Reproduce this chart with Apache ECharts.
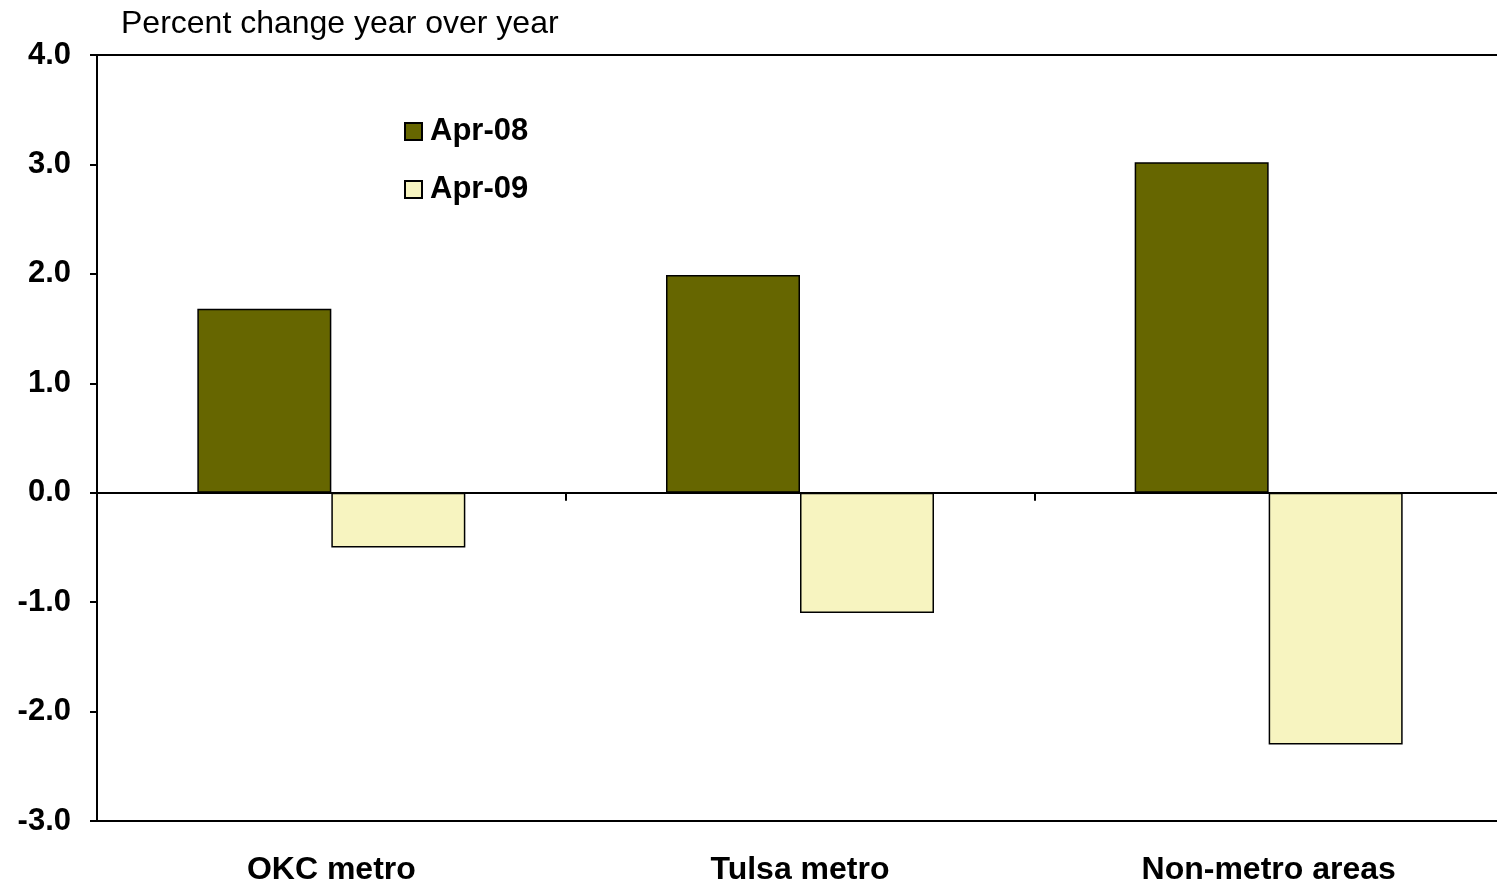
<!DOCTYPE html>
<html>
<head>
<meta charset="utf-8">
<script src="https://cdn.jsdelivr.net/npm/echarts@6/dist/echarts.min.js"></script>
<style>
  html, body { margin: 0; padding: 0; background: #fff; }
  #chart { width: 1497px; height: 882px; }
</style>
</head>
<body>
<div id="chart"></div>
<script>
// Employment change by area, percent year over year
const categories = ['OKC metro', 'Tulsa metro', 'Non-metro areas'];
const seriesNames = ['Apr-08', 'Apr-09'];
const apr08 = [1.68, 1.99, 3.02];
const apr09 = [-0.50, -1.10, -2.30];
const yTicks = { min: -3, max: 4, interval: 1 };

const FONT = '"Liberation Sans", Arial, sans-serif';
const chart = echarts.init(document.getElementById('chart'), null, { renderer: 'canvas' });

const blackLine = { color: '#000', width: 2 };

chart.setOption({
  animation: false,
  backgroundColor: '#fff',
  textStyle: { fontFamily: FONT, color: '#000' },
  title: {
    text: 'Percent change year over year',
    left: 116,
    top: 3,
    textStyle: { fontFamily: FONT, fontSize: 32, fontWeight: 'normal', color: '#000' }
  },
  legend: {
    orient: 'vertical',
    left: 399,
    top: 111,
    itemWidth: 17,
    itemHeight: 17,
    itemGap: 27,
    icon: 'rect',
    data: seriesNames,
    textStyle: { fontFamily: FONT, fontSize: 31, fontWeight: 'bold', color: '#000', padding: [0, 0, 0, 3] }
  },
  grid: {
    left: 97, top: 55, bottom: 61, width: 1406,
    outerBoundsMode: 'none',
    containLabel: false,
    show: false
  },
  xAxis: [
    {
      // zero line with category boundary ticks
      type: 'category',
      data: categories,
      axisLine: { onZero: true, lineStyle: blackLine },
      axisTick: { show: true, length: 8, lineStyle: blackLine },
      axisLabel: { show: false },
      splitLine: { show: false }
    },
    {
      // category names along the bottom edge
      type: 'category',
      data: categories,
      position: 'bottom',
      axisLine: { onZero: false, show: true, lineStyle: blackLine },
      axisTick: { show: false },
      axisLabel: { margin: 33, fontFamily: FONT, fontSize: 32, fontWeight: 'bold', color: '#000' },
      splitLine: { show: false }
    },
    {
      // top frame edge
      type: 'category',
      data: categories,
      position: 'top',
      axisLine: { onZero: false, show: true, lineStyle: blackLine },
      axisTick: { show: false },
      axisLabel: { show: false },
      splitLine: { show: false }
    }
  ],
  yAxis: {
    type: 'value',
    min: yTicks.min,
    max: yTicks.max,
    interval: yTicks.interval,
    axisLine: { show: true, onZero: false, lineStyle: blackLine },
    axisTick: { show: true, length: 7, lineStyle: blackLine },
    axisLabel: {
      margin: 26,
      fontFamily: FONT, fontSize: 31, fontWeight: 'bold', color: '#000',
      formatter: v => v.toFixed(1)
    },
    splitLine: { show: false }
  },
  series: [
    {
      name: seriesNames[0],
      type: 'bar',
      xAxisIndex: 0,
      data: apr08,
      barWidth: 134,
      barGap: '0%',
      itemStyle: { color: '#666600', borderColor: '#000', borderWidth: 1.5 }
    },
    {
      name: seriesNames[1],
      type: 'bar',
      xAxisIndex: 0,
      data: apr09,
      barWidth: 134,
      barGap: '0%',
      itemStyle: { color: '#F7F4C0', borderColor: '#000', borderWidth: 1.5 }
    }
  ]
});
</script>
</body>
</html>
